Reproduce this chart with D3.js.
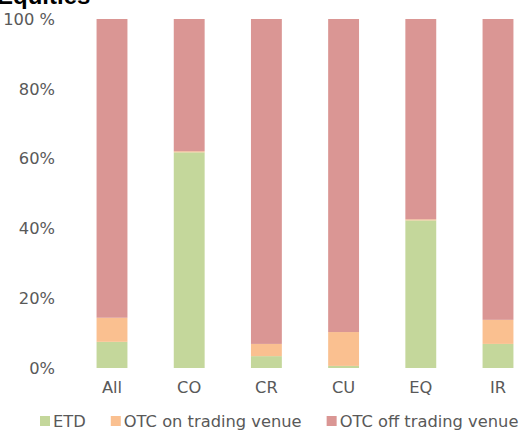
<!DOCTYPE html>
<html>
<head>
<meta charset="utf-8">
<script src="https://cdn.jsdelivr.net/npm/d3@7"></script>
<style>
	body{margin:0;background:#fff;}
	text{font-family:"DejaVu Sans",Verdana,sans-serif;}
</style>
</head>
<body>
<div id="chart"></div>
<script>
// values in percent
const categories = ["All","CO","CR","CU","EQ","IR"];
const etd        = [7.5, 61.8, 3.4, 0.6, 42.3, 6.9];
const otcOn      = [6.9, 0.3, 3.5, 9.7, 0.3, 6.9];
const otcOff     = categories.map((c,i)=>100-etd[i]-otcOn[i]);
const seriesNames = ["ETD","OTC on trading venue","OTC off trading venue"];
const yTicks = [0,20,40,60,80,100];
const title = "Equities";

const W = 527, H = 432;
const colors = ["#c4d79b","#fac090","#da9694"];
const textCol = "#595959";
const fs = "16.3px";

const svg = d3.select("#chart").append("svg")
	.attr("width",W).attr("height",H)
	.attr("viewBox","0 0 "+W+" "+H);

const X = d3.scaleBand().domain(categories).range([73.4,536.6]).paddingInner(0.6).paddingOuter(0.3);
const Y = d3.scaleLinear().domain([0,100]).range([368,19]);

const rows = categories.map((c,i)=>({cat:c, ETD:etd[i], "OTC on trading venue":otcOn[i], "OTC off trading venue":otcOff[i]}));
const stacked = d3.stack().keys(seriesNames)(rows);

// title sits mostly above the top edge, as in the original crop
svg.append("text").text(title)
	.attr("x",-3).attr("y",4)
	.style("font-family","'Liberation Sans',Arial,sans-serif")
	.style("font-size","24px").style("font-weight","bold").style("fill","#000");

svg.selectAll(".layer").data(stacked).enter().append("g")
	.attr("class","layer")
	.style("fill",(d,i)=>colors[i])
	.selectAll("rect").data(d=>d).enter().append("rect")
	.attr("x",d=>X(d.data.cat))
	.attr("y",d=>Y(d[1]))
	.attr("width",X.bandwidth())
	.attr("height",d=>Y(d[0])-Y(d[1]));

// y axis labels
svg.selectAll(".ytick").data(yTicks).enter().append("text")
	.attr("class","ytick")
	.attr("x",55).attr("y",d=>Y(d))
	.attr("dy","0.35em")
	.style("text-anchor","end")
	.style("font-size",fs)
	.style("fill",textCol)
	.text(d=>d==100 ? "100 %" : d+"%");

// x axis labels
svg.selectAll(".xtick").data(categories).enter().append("text")
	.attr("class","xtick")
	.attr("x",d=>X(d)+X.bandwidth()/2).attr("y",387)
	.attr("dy","0.35em")
	.style("text-anchor","middle")
	.style("font-size",fs)
	.style("fill",textCol)
	.text(d=>d);

// legend
const leg = svg.append("g").attr("transform","translate(40,421)");
let lx = 0;
seriesNames.forEach((name,i)=>{
	const g = leg.append("g").attr("transform","translate("+lx+",0)");
	g.append("rect").attr("x",0).attr("y",-5).attr("width",10).attr("height",10).style("fill",colors[i]);
	const t = g.append("text").attr("x",13).attr("y",0).attr("dy","0.35em")
		.style("font-size",fs).style("fill",textCol).text(name);
	lx += 13 + t.node().getComputedTextLength() + 25;
});
</script>
</body>
</html>
